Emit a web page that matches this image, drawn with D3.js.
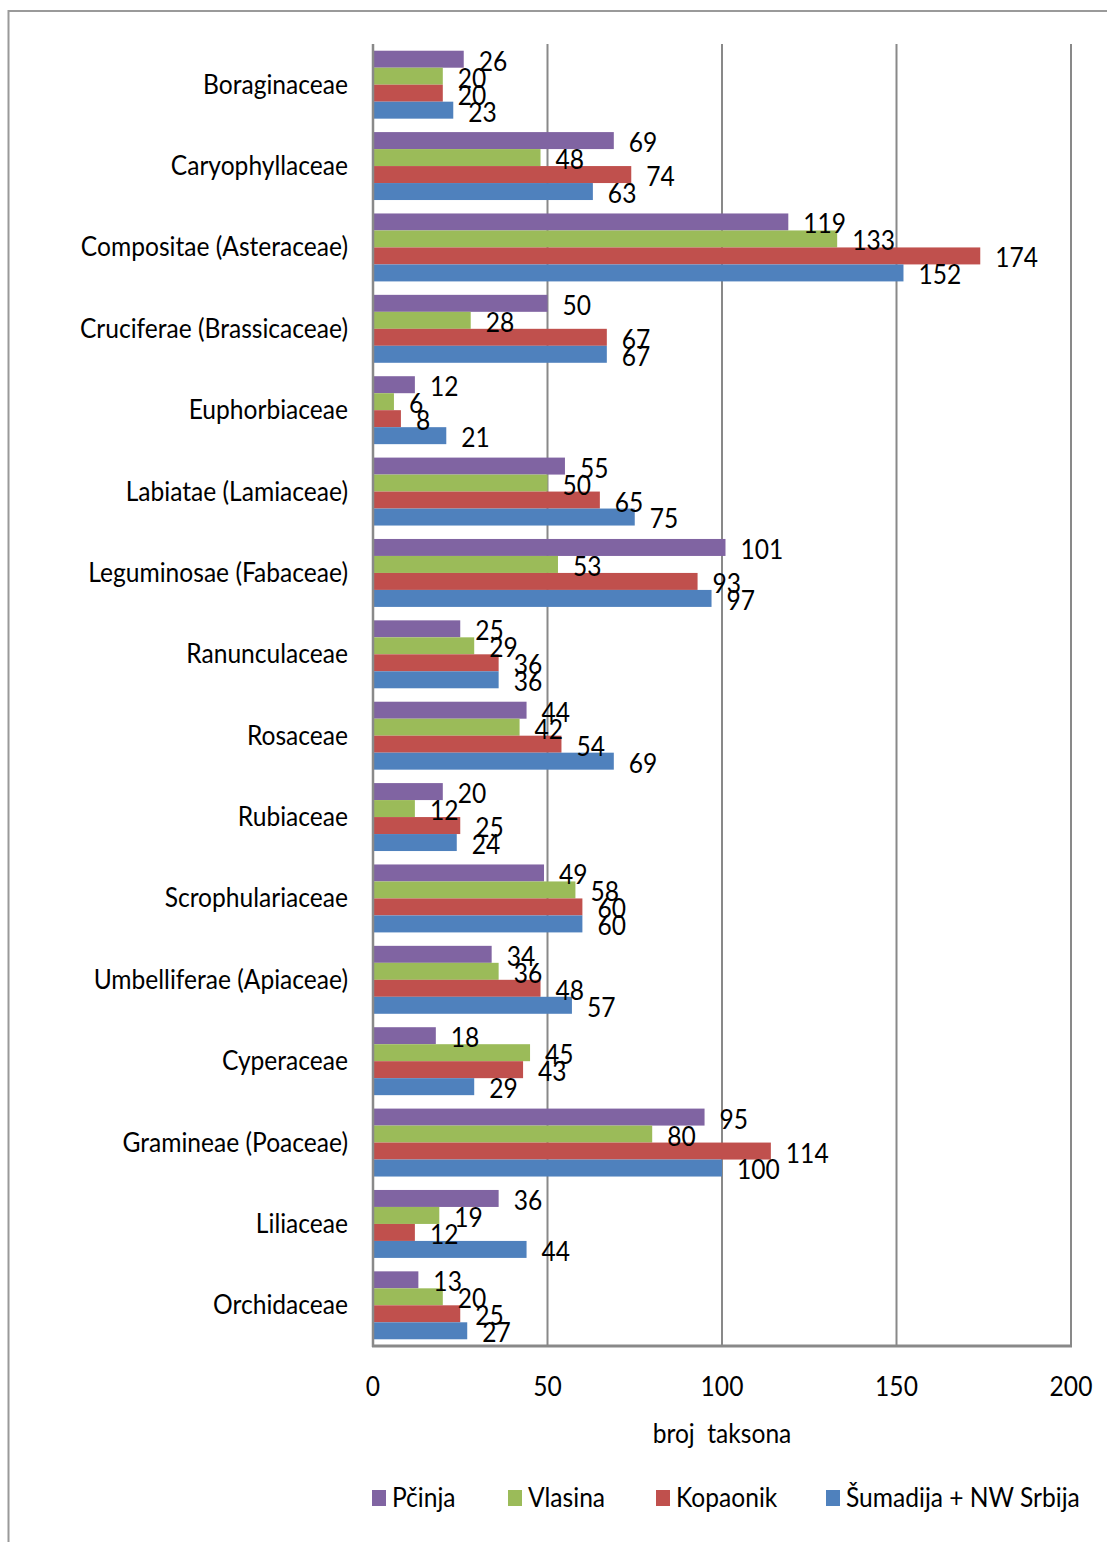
<!DOCTYPE html>
<html><head><meta charset="utf-8">
<script src="https://cdn.jsdelivr.net/npm/d3@7"></script>
<style>
html,body{margin:0;padding:0;background:#fff;}
svg text{font-family:Lato,"Open Sans",sans-serif;fill:#000;white-space:pre;}
</style></head>
<body>
<svg id="chart" width="1107" height="1542"></svg>
<script>
const categories = ["Boraginaceae","Caryophyllaceae","Compositae (Asteraceae)","Cruciferae (Brassicaceae)","Euphorbiaceae","Labiatae (Lamiaceae)","Leguminosae (Fabaceae)","Ranunculaceae","Rosaceae","Rubiaceae","Scrophulariaceae","Umbelliferae (Apiaceae)","Cyperaceae","Gramineae (Poaceae)","Liliaceae","Orchidaceae"];
const seriesNames = ["Pčinja","Vlasina","Kopaonik","Šumadija + NW Srbija"];
const pcinja   = [26,69,119,50,12,55,101,25,44,20,49,34,18,95,36,13];
const vlasina  = [20,48,133,28,6,50,53,29,42,12,58,36,45,80,19,20];
const kopaonik = [20,74,174,67,8,65,93,36,54,25,60,48,43,114,12,25];
const sumadija = [23,63,152,67,21,75,97,36,69,24,60,57,29,100,44,27];
const xTicks = [0,50,100,150,200];
const xTitle = "broj  taksona";
const colors = ["#8064A2","#9BBB59","#C0504D","#4F81BD"];

const seriesValues = [pcinja, vlasina, kopaonik, sumadija];
const svg = d3.select("#chart");
const X0 = 373, X1 = 1071, Y0 = 44, Y1 = 1346;
const FS = 27;

const probe = svg.append("text").attr("font-size", FS).text("Boraginaceae");
const SX = 145 / probe.node().getComputedTextLength();
probe.remove();

function txt(g, x, y, s, anchor, size) {
  return g.append("text")
    .attr("transform", `translate(${x},${y}) scale(${SX},1)`)
    .attr("text-anchor", anchor || "start")
    .attr("dominant-baseline", "central")
    .attr("font-size", size || FS)
    .text(s);
}

svg.append("rect").attr("x", 8.5).attr("y", 11).attr("width", 1200).attr("height", 1600)
  .attr("fill", "none").attr("stroke", "#9a9a9a").attr("stroke-width", 2);

const x = d3.scaleLinear().domain([0, 200]).range([X0, X1]);
const y = d3.scaleBand().domain(categories).range([Y0, Y1]).paddingInner(0.165).paddingOuter(0.0825);
const ys = d3.scaleBand().domain(seriesNames).range([0, y.bandwidth()]);

svg.append("g").selectAll("line").data(xTicks.slice(1)).join("line")
  .attr("x1", d => x(d)).attr("x2", d => x(d)).attr("y1", Y0).attr("y2", Y1)
  .attr("stroke", "#898989").attr("stroke-width", 2);

const groups = svg.append("g").selectAll("g").data(categories).join("g")
  .attr("transform", c => `translate(0,${y(c)})`);
groups.each(function(c, ci) {
  const g = d3.select(this);
  seriesNames.forEach((s, si) => {
    const v = seriesValues[si][ci];
    g.append("rect").attr("x", x(0)).attr("y", ys(s))
      .attr("width", x(v) - x(0)).attr("height", ys.bandwidth())
      .attr("fill", colors[si]);
  });
});

groups.each(function(c, ci) {
  const g = d3.select(this);
  seriesNames.forEach((s, si) => {
    const v = seriesValues[si][ci];
    txt(g, x(v) + 15, ys(s) + ys.bandwidth() / 2 + 1, String(v), "start");
  });
});

svg.append("line").attr("x1", X0).attr("x2", X0).attr("y1", Y0).attr("y2", Y1 + 1)
  .attr("stroke", "#898989").attr("stroke-width", 2.5);
svg.append("line").attr("x1", X0 - 1).attr("x2", X1 + 1).attr("y1", Y1).attr("y2", Y1)
  .attr("stroke", "#898989").attr("stroke-width", 3);

const cl = svg.append("g");
categories.forEach(c => txt(cl, 348, y(c) + y.bandwidth() / 2 - 1.5, c, "end"));

const tl = svg.append("g");
xTicks.forEach(t => txt(tl, x(t), 1386, String(t), "middle"));

txt(svg, (X0 + X1) / 2, 1433, xTitle, "middle");

const legX = [372, 508, 656, 826];
const lg = svg.append("g");
seriesNames.forEach((s, i) => {
  lg.append("rect").attr("x", legX[i]).attr("y", 1490).attr("width", 14).attr("height", 16).attr("fill", colors[i]);
  txt(lg, legX[i] + 20, 1497, s, "start");
});
</script>
</body></html>
